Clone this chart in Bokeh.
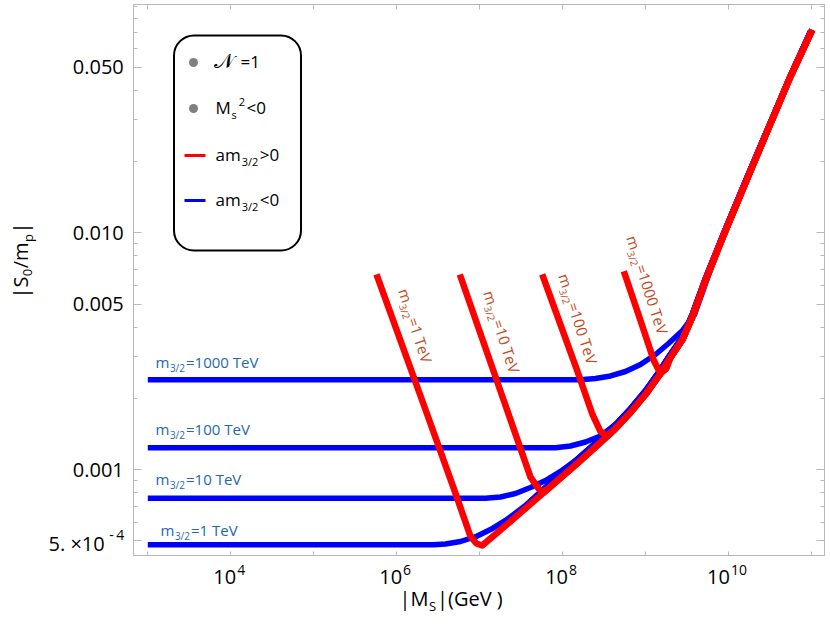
import math
from bokeh.plotting import figure
from bokeh.layouts import row, column
from bokeh.models import Range1d, LogAxis, FixedTicker, CustomJSTickFormatter, Label, BoxAnnotation
from bokeh.embed import file_html
from bokeh.resources import INLINE

# ---------------- data ----------------
m32_labels = ["1", "10", "100", "1000"]          # m_{3/2} in TeV

# a m_{3/2} < 0 (blue): own part of each curve, then the common envelope
blue_1_M    = [1e3, 2.78e6, 3.878e6, 5.88e6, 9.35e6, 1.352e7, 2.05e7, 3.57e7, 7.15e7]
blue_1_S    = [4.81e-4, 4.81e-4, 4.85e-4, 4.97e-4, 5.24e-4, 5.58e-4, 6.10e-4, 7.05e-4, 8.82e-4]
blue_10_M   = [1e3, 1.177e7, 1.784e7, 2.706e7, 4.104e7, 6.22e7, 9.44e7]
blue_10_S   = [7.57e-4, 7.57e-4, 7.66e-4, 7.93e-4, 8.40e-4, 8.99e-4, 9.82e-4]
blue_100_M  = [1e3, 8.21e7, 1.245e8, 1.889e8, 2.864e8]
blue_100_S  = [1.236e-3, 1.236e-3, 1.258e-3, 1.308e-3, 1.386e-3]
blue_1000_M = [1e3, 1.644e8, 2.493e8, 3.779e8, 5.73e8, 8.69e8, 1.318e9, 1.891e9, 2.791e9,
               3.893e9, 5.278e9]
blue_1000_S = [2.394e-3, 2.394e-3, 2.425e-3, 2.485e-3, 2.596e-3, 2.779e-3, 3.062e-3, 3.408e-3,
               3.867e-3, 4.519e-3, 6.11e-3]
blue_env_M  = [1.432e8, 2.864e8, 4.342e8, 6.585e8, 9.98e8, 1.514e9, 1.998e9, 2.791e9, 3.683e9,
               5.278e9, 8.70e9, 1.517e10, 3.21e10, 5.58e10, 9.73e10]
blue_env_S  = [1.092e-3, 1.353e-3, 1.550e-3, 1.811e-3, 2.158e-3, 2.647e-3, 3.077e-3, 3.648e-3,
               4.561e-3, 6.44e-3, 9.93e-3, 1.584e-2, 2.937e-2, 4.62e-2, 7.08e-2]

# a m_{3/2} > 0 (red): descending branch of each curve, then the common envelope
red_1_M    = [5.71e5, 2.03e6, 5.12e6, 7.76e6, 9.16e6]
red_1_S    = [6.67e-3, 1.958e-3, 7.93e-4, 5.22e-4, 4.875e-4]
red_10_M   = [5.77e6, 1.954e7, 4.10e7, 5.16e7]
red_10_S   = [6.67e-3, 1.958e-3, 9.29e-4, 8.30e-4]
red_100_M  = [5.68e7, 1.50e8, 2.29e8, 2.864e8, 3.47e8]
red_100_S  = [6.67e-3, 2.62e-3, 1.709e-3, 1.448e-3, 1.386e-3]
red_1000_M = [5.47e8, 8.69e8, 1.256e9, 1.514e9, 1.786e9]
red_1000_S = [6.88e-3, 4.26e-3, 2.888e-3, 2.545e-3, 2.673e-3]
red_env_M  = [1.074e7, 2.355e7, 5.93e7, 1.432e8, 2.864e8, 4.342e8, 6.585e8, 9.98e8, 1.514e9,
              1.998e9, 2.791e9, 3.683e9, 5.278e9, 8.70e9, 1.517e10, 3.21e10, 5.58e10, 1.021e11]
red_env_S  = [4.78e-4, 6.04e-4, 8.00e-4, 1.046e-3, 1.301e-3, 1.491e-3, 1.742e-3, 2.075e-3,
              2.545e-3, 2.974e-3, 3.543e-3, 4.430e-3, 6.29e-3, 9.74e-3, 1.553e-2, 2.894e-2,
              4.57e-2, 7.20e-2]

# ticks
x_major = [1e4, 1e6, 1e8, 1e10]
x_exp   = ["4", "6", "8", "10"]
x_minor = [1e3, 1e5, 1e7, 1e9, 1e11]
y_major  = [5e-4, 1e-3, 5e-3, 1e-2, 5e-2]
y_labels = ["5. \u00d710|-|4", "0.001", "0.005", "0.010", "0.050"]
y_minor  = [6e-4, 7e-4, 8e-4, 9e-4, 2e-3, 3e-3, 4e-3, 6e-3, 7e-3, 8e-3, 9e-3,
            2e-2, 3e-2, 4e-2, 6e-2, 7e-2, 8e-2, 9e-2]

# ---------------- layout / style ----------------
FONT = "Open Sans"
FRAME = "#b9b9b9"
BLUE, RED = "#0000ff", "#ff0000"
BLUE_TXT, RED_TXT = "#2466b0", "#bf4a1c"

XLO, XHI = 2.82763, 11.1570      # log10 range of x
YLO, YHI = -3.36698, -1.03590    # log10 range of y
LEFT_W, TOP_B, FW, FH, BOT_H = 133, 4, 691, 552, 64
XPPD = FW / (XHI - XLO)
YPPD = FH / (YHI - YLO)

def dX(px):          # page pixel -> data x (for annotation placement only)
    return 10 ** (XLO + (px - LEFT_W) / XPPD)

def dY(py):          # page pixel -> data y (for annotation placement only)
    return 10 ** (YHI - (py - TOP_B) / YPPD)

common = dict(output_backend="svg", toolbar_location=None,
              background_fill_color="white", border_fill_color="white")

p = figure(frame_width=FW, frame_height=FH, x_axis_type="log", y_axis_type="log",
           x_range=Range1d(10 ** XLO, 10 ** XHI), y_range=Range1d(10 ** YLO, 10 ** YHI),
           min_border_left=0, min_border_right=4, min_border_top=TOP_B, min_border_bottom=0,
           **common)
p.grid.visible = False
p.outline_line_color = FRAME
p.outline_line_width = 1

empty_fmt = CustomJSTickFormatter(code="return '';")

def style_axis(ax, major, minor, tin, mtin):
    ax.ticker = FixedTicker(ticks=major, minor_ticks=minor)
    ax.formatter = empty_fmt
    ax.axis_line_color = FRAME
    ax.major_tick_line_color = FRAME
    ax.minor_tick_line_color = FRAME
    ax.major_tick_in = tin
    ax.major_tick_out = 0
    ax.minor_tick_in = mtin
    ax.minor_tick_out = 0
    ax.major_label_text_font_size = "0px"
    ax.major_label_standoff = 0

style_axis(p.xaxis[0], x_major, x_minor, 5, 5)
style_axis(p.yaxis[0], y_major, y_minor, 8, 4)
top_ax = LogAxis()
style_axis(top_ax, x_major, x_minor, 5, 5)
p.add_layout(top_ax, "above")
right_ax = LogAxis()
style_axis(right_ax, y_major, y_minor, 8, 4)
p.add_layout(right_ax, "right")

# strip below the frame (x tick labels, x title) sharing the x scale
bot = figure(frame_width=FW, frame_height=BOT_H, x_axis_type="log", x_range=p.x_range,
             y_range=Range1d(BOT_H, 0), min_border_left=0, min_border_right=4,
             min_border_top=0, min_border_bottom=0, x_axis_location=None,
             y_axis_location=None, **common)
bot.outline_line_color = None
bot.grid.visible = False

# strip left of the frame (y tick labels, y title) sharing the y scale
left = figure(frame_width=LEFT_W, frame_height=FH, y_axis_type="log", y_range=p.y_range,
              x_range=Range1d(0, LEFT_W), min_border_left=0, min_border_right=0,
              min_border_top=TOP_B, min_border_bottom=BOT_H, x_axis_location=None,
              y_axis_location=None, **common)
left.outline_line_color = None
left.grid.visible = False

# ---------------- curves ----------------
def joined(own_M, own_S, env_M, env_S):
    M = list(own_M) + [m for m in env_M if m > own_M[-1]]
    S = list(own_S) + [s for m, s in zip(env_M, env_S) if m > own_M[-1]]
    return M, S

blue_sets = [(blue_1_M, blue_1_S), (blue_10_M, blue_10_S),
             (blue_100_M, blue_100_S), (blue_1000_M, blue_1000_S)]
red_sets = [(red_1_M, red_1_S), (red_10_M, red_10_S),
            (red_100_M, red_100_S), (red_1000_M, red_1000_S)]

for oM, oS in blue_sets:
    M, S = joined(oM, oS, blue_env_M, blue_env_S)
    p.line(M, S, line_color=BLUE, line_width=5.5, line_join="round", line_cap="butt")
for oM, oS in red_sets:
    M, S = joined(oM, oS, red_env_M, red_env_S)
    p.line(M, S, line_color=RED, line_width=6.5, line_join="round", line_cap="butt")

# ---------------- rich text helper ----------------
W = {'0': .572, '1': .572, '2': .572, '3': .572, '4': .572, '5': .572, '6': .572, '7': .572,
     '8': .572, '9': .572, '.': .266, '=': .572, '<': .572, '>': .572, ' ': .26, 'T': .555,
     'e': .561, 'V': .594, 'm': .926, 'a': .556, '/': .367, '|': .544, 'S': .547, 'M': .905,
     's': .477, 'p': .613, 'G': .712, '(': .297, ')': .297, '\u00d7': .572, '-': .322}
MID = 0.36           # distance baseline -> middle of the text box, in em

def tw(s, size):
    return sum(W.get(c, 0.6) for c in s) * size

def rich(fig, X, Y, pieces, color, angle_deg=0.0, dx=0.0, dy=0.0):
    """pieces: (text, size px, rise px, gap px); (X, Y) + (dx, dy) = start of baseline."""
    a = math.radians(angle_deg)
    ux, uy = math.cos(a), math.sin(a)
    nx, ny = -math.sin(a), math.cos(a)
    adv = 0.0
    for txt, size, rise, gap in pieces:
        adv += gap
        r = rise + MID * size
        ox = dx + adv * ux + r * nx
        oy = -dy + adv * uy + r * ny
        fig.add_layout(Label(x=X, y=Y, x_offset=ox, y_offset=oy, text=txt, angle=a,
                             text_font=FONT, text_font_size=f"{size}px", text_color=color,
                             text_align="left", text_baseline="middle"))
        adv += tw(txt, size)

def total(pieces):
    return sum(g + tw(t, s) for t, s, r, g in pieces)

# x tick labels 10^n (in the bottom strip, at the tick values)
for v, e in zip(x_major, x_exp):
    pcs = [("10", 20, 0, 0), (e, 14, 8.3, 1)]
    rich(bot, v, 27.3, pcs, "black", dx=-total(pcs) / 2 - 1.5)

# y tick labels (in the left strip, at the tick values)
for v, lab in zip(y_major, y_labels):
    if "|" in lab:
        base, sgn, ex = lab.split("|")
        rich(left, 48, v, [(base, 20, 0, 0), (sgn, 14, 11, 4.5), (ex, 14, 11, 2.5)],
             "black", dy=10)
    else:
        left.add_layout(Label(x=123.3, y=v, text=lab, text_align="right",
                              text_baseline="middle", text_font=FONT,
                              text_font_size="20px", text_color="black"))

# axis titles
rich(bot, dX(399), 605 - (TOP_B + FH),
     [("|M", 20, 0, 0), ("S", 13, -5, 0.5), ("|(GeV )", 20, 0, 1)], "black")
rich(left, 27, dY(298), [("|S", 20, 0, 0), ("0", 13, -5, 0.5), ("/m", 20, 0, 0.5),
                         ("p", 13, -5, 0.5), ("|", 20, 0, 0.5)], "black", angle_deg=90)

# curve labels
blue_anchor = [(160, 535), (155, 484), (155, 434), (155, 367)]
red_anchor = [(398, 290), (483, 292), (558, 275), (626, 237)]
for k, (bx, by), (rx, ry) in zip(m32_labels, blue_anchor, red_anchor):
    pcs = [("m", 15, 0, 0), ("3/2", 10, -4, 0.5), ("=" + k + " TeV", 15, 0, 1)]
    rich(p, dX(bx), dY(by), pcs, BLUE_TXT)
    rich(p, dX(rx), dY(ry), pcs, RED_TXT, angle_deg=-72)

# ---------------- legend ----------------
p.add_layout(BoxAnnotation(left=dX(173.5), right=dX(300.5), top=dY(35), bottom=dY(250),
                           fill_color=None, line_color="black", line_width=2, line_alpha=1,
                           border_radius=20))
p.scatter([dX(193), dX(193)], [dY(62), dY(108)], size=9, fill_color="#808080", line_color=None)
p.segment(x0=[dX(184), dX(184)], y0=[dY(155), dY(200)], x1=[dX(205), dX(205)],
          y1=[dY(155), dY(200)], line_color=[RED, BLUE], line_width=3)
rich(p, dX(213), dY(67), [("\U0001D4A9", 21, 0, 0)], "black")
rich(p, dX(240), dY(67), [("=1", 17, 0, 0)], "black")
rich(p, dX(215), dY(113.5), [("M", 17, 0, 0), ("s", 11, -4, 0.5), ("2", 11, 8, 2),
                             ("<0", 17, 0, 1.5)], "black")
rich(p, dX(215), dY(160), [("am", 17, 0, 0), ("3/2", 11, -5, 1), (">0", 17, 0, 1.5)], "black")
rich(p, dX(215), dY(205), [("am", 17, 0, 0), ("3/2", 11, -5, 1), ("<0", 17, 0, 1.5)], "black")

layout = row(left, column(p, bot))
open("out.html", "w").write(file_html(layout, INLINE))
